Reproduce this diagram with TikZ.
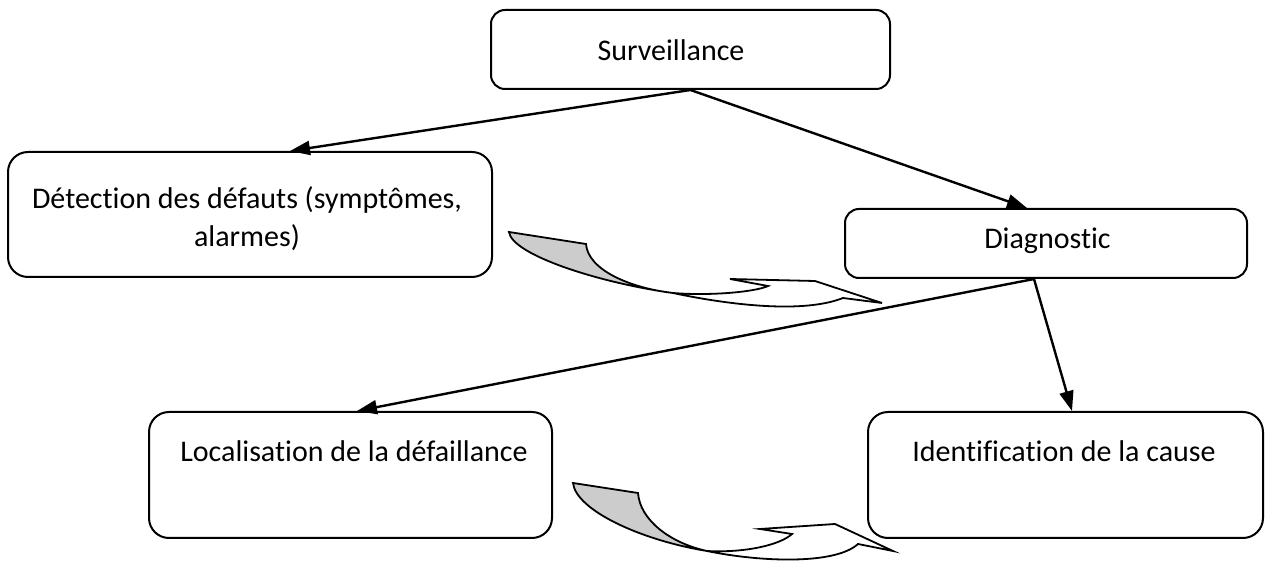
\documentclass[tikz,border=0pt]{standalone}
\usepackage{fontspec}
\setmainfont{Carlito}[Ligatures=NoCommon]
\usetikzlibrary{arrows.meta}
\begin{document}
\begin{tikzpicture}[x=0.5pt,y=-0.5pt,
    box/.style={draw,rounded corners=7pt,line width=1pt,inner sep=0pt},
    txt/.style={font=\fontsize{15}{19}\selectfont,inner sep=0pt,align=center},
    link/.style={line width=1.2pt,-{Triangle[length=10pt,width=7pt]}},
    bendarrow/.style={line width=0.9pt,line join=miter}]
    \useasboundingbox (0,0) rectangle (1266,561);

    \node[box,minimum width=199.5pt,minimum height=39.5pt] (surv) at (690.5,49.5) {};
    \node[box,rounded corners=10pt,minimum width=242pt,minimum height=62.5pt] (detect) at (250,214.5) {};
    \node[box,minimum width=201pt,minimum height=34.5pt] (diag) at (1046,243.5) {};
    \node[box,rounded corners=10pt,minimum width=201.5pt,minimum height=63pt] (loc) at (350.5,475) {};
    \node[box,rounded corners=10pt,minimum width=197.5pt,minimum height=63pt] (ident) at (1065.5,475) {};

    \node[txt,anchor=base] (survtxt) at (671,61) {Surveillance};
    \node[txt] (detecttxt) at (247,219) {Détection des défauts (symptômes,\\alarmes)};
    \node[txt,anchor=base] (diagtxt) at (1047.5,249) {Diagnostic};
    \node[txt,anchor=base] (loctxt) at (354,462) {Localisation de la défaillance};
    \node[txt,anchor=base] (identtxt) at (1064,462) {Identification de la cause};

    \draw[link] (surv.south) -- ([xshift=20pt]detect.north);
    \draw[link] (surv.south) -- ([xshift=-9.5pt]diag.north);
    \draw[link] ([xshift=-6pt]diag.south) -- ([xshift=3.25pt]loc.north);
    \draw[link] ([xshift=-6pt]diag.south) -- ([xshift=3.25pt]ident.north);

    \fill[black!20] (509,232) -- (586,244) .. controls (588,270) and (630,288) .. (673,293)
        .. controls (600,283) and (512,255) .. (509,232) -- cycle;
    \draw[bendarrow] (509,232) -- (586,244) .. controls (588,270) and (630,288) .. (673,293)
        .. controls (710,296) and (755,292) .. (768,286) -- (730,279) -- (815,281) -- (882,303) -- (843,298)
        .. controls (800,315) and (720,303) .. (673,293) .. controls (600,283) and (512,255) .. (509,232) -- cycle;

    \fill[black!20] (573,483) -- (638,493) .. controls (640,520) and (670,543) .. (707,551)
        .. controls (640,540) and (576,510) .. (573,483) -- cycle;
    \draw[bendarrow] (573,483) -- (638,493) .. controls (640,520) and (670,543) .. (707,551)
        .. controls (745,553) and (780,545) .. (792,534) -- (760,529) -- (835,524) -- (893,551) -- (858,544)
        .. controls (835,565) and (760,562) .. (707,551) .. controls (640,540) and (576,510) .. (573,483) -- cycle;
\end{tikzpicture}
\end{document}
